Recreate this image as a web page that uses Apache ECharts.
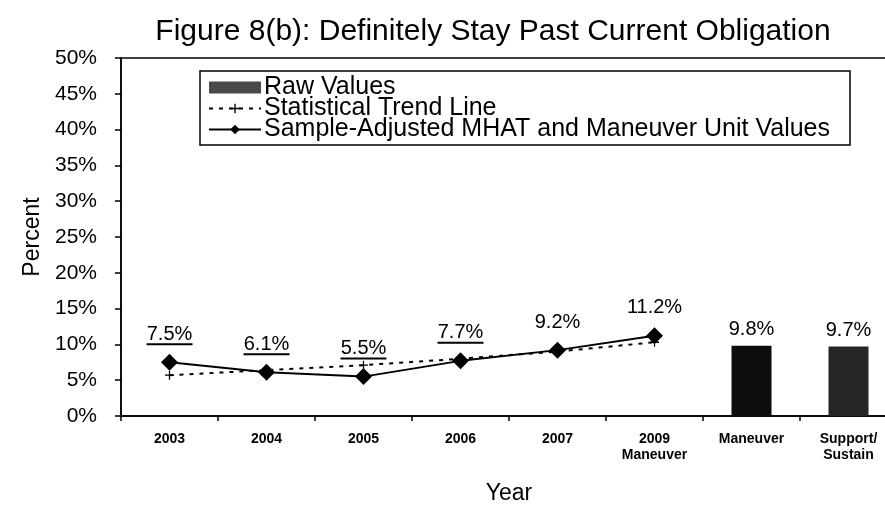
<!DOCTYPE html>
<html>
<head>
<meta charset="utf-8">
<script src="https://cdn.jsdelivr.net/npm/echarts@6/dist/echarts.min.js"></script>
<style>
    html, body { margin: 0; padding: 0; background: #fff; }
    #chart { width: 885px; height: 512px; }
</style>
</head>
<body>
<div id="chart"></div>
<script>
// categories along the x axis
const categories = ['2003', '2004', '2005', '2006', '2007', '2009\nManeuver', 'Maneuver', 'Support/\nSustain']
// sample-adjusted MHAT and maneuver unit values (%)
const adjustedValues = [7.5, 6.1, 5.5, 7.7, 9.2, 11.2, null, null]
// statistical trend line (%)
const trendValues = [5.7, 6.4, 7.1, 8.0, 9.0, 10.3, null, null]
// raw values (%)
const rawValues = [null, null, null, null, null, null, 9.8, 9.7]
// which point labels are underlined
const underlined = [true, true, true, true, false, false]
const yTicks = [0, 5, 10, 15, 20, 25, 30, 35, 40, 45, 50]

const font = 'Liberation Sans, Arial, sans-serif'
const plus = 'path://M4.3,0 L5.7,0 L5.7,4.3 L10,4.3 L10,5.7 L5.7,5.7 L5.7,10 L4.3,10 L4.3,5.7 L0,5.7 L0,4.3 L4.3,4.3 Z'

const chart = echarts.init(document.getElementById('chart'))

const option = {
    backgroundColor: '#fff',
    animation: false,
    textStyle: { fontFamily: font, color: '#000' },
    title: {
        text: 'Figure 8(b): Definitely Stay Past Current Obligation',
        left: 488, top: 12, textAlign: 'center',
        textStyle: { fontFamily: font, fontSize: 30, fontWeight: 'normal', color: '#000' }
    },
    legend: {
        orient: 'vertical',
        left: 200, top: 71,
        padding: [4, 20, 3, 8],
        itemGap: -4,
        itemWidth: 52, itemHeight: 12,
        borderColor: '#000', borderWidth: 1.5,
        textStyle: { fontFamily: font, fontSize: 25, color: '#000', padding: [0, 0, 0, -2] },
        data: [
            { name: 'Raw Values', icon: 'rect' },
            'Statistical Trend Line',
            'Sample-Adjusted MHAT and Maneuver Unit Values'
        ]
    },
    grid: {
        left: 121, top: 58, width: 776, bottom: 96,
        outerBoundsMode: 'none',
        show: true, borderColor: '#000', borderWidth: 1.5, backgroundColor: 'transparent'
    },
    xAxis: {
        type: 'category',
        data: categories,
        name: 'Year',
        nameLocation: 'middle',
        nameGap: 66,
        nameTextStyle: { fontFamily: font, fontSize: 23, color: '#000' },
        axisLine: { lineStyle: { color: '#000', width: 1.5 } },
        axisTick: { show: true, length: 5, lineStyle: { color: '#000', width: 1.5 } },
        axisLabel: { color: '#000', fontFamily: font, fontSize: 14, fontWeight: 'bold', margin: 15, lineHeight: 16 }
    },
    yAxis: {
        type: 'value',
        min: 0, max: 50, interval: 5,
        name: 'Percent',
        nameLocation: 'middle',
        nameRotate: 90,
        nameGap: 72,
        nameTextStyle: { fontFamily: font, fontSize: 23, color: '#000' },
        axisLine: { show: true, lineStyle: { color: '#000', width: 1.5 } },
        axisTick: { show: true, length: 6, lineStyle: { color: '#000', width: 1.5 } },
        splitLine: { show: false },
        axisLabel: {
            color: '#000', fontFamily: font, fontSize: 21, margin: 24,
            formatter: v => yTicks.includes(v) ? v + '%' : ''
        }
    },
    series: [
        {
            name: 'Raw Values',
            type: 'bar',
            barWidth: 40,
            data: rawValues.map((v, i) => v == null ? null : {
                value: v,
                itemStyle: { color: i === 6 ? '#0d0d0d' : '#262626' }
            }),
            itemStyle: { color: '#4a4a4a' },
            label: {
                show: true, position: 'top', distance: 6,
                fontFamily: font, fontSize: 20, color: '#000',
                formatter: p => p.value.toFixed(1) + '%'
            }
        },
        {
            name: 'Statistical Trend Line',
            type: 'line',
            data: trendValues,
            symbol: plus,
            symbolSize: 9,
            showSymbol: true,
            itemStyle: { color: '#000' },
            lineStyle: { color: '#000', width: 2, type: [4, 6] },
            z: 3
        },
        {
            name: 'Sample-Adjusted MHAT and Maneuver Unit Values',
            type: 'line',
            data: adjustedValues,
            symbol: 'diamond',
            symbolSize: 17,
            itemStyle: { color: '#000' },
            lineStyle: { color: '#000', width: 2 },
            z: 4,
            label: {
                show: true, position: 'top', distance: 8,
                formatter: p => '{t|' + p.value.toFixed(1) + '%}\n' + (underlined[p.dataIndex] ? '{u|}' : '{n|}'),
                rich: {
                    t: { fontFamily: font, fontSize: 20, color: '#000', lineHeight: 17, align: 'center' },
                    u: { width: 46, height: 2, backgroundColor: '#000', lineHeight: 3 },
                    n: { width: 46, height: 2, lineHeight: 3 }
                }
            }
        }
    ]
}

chart.setOption(option)
</script>
</body>
</html>
